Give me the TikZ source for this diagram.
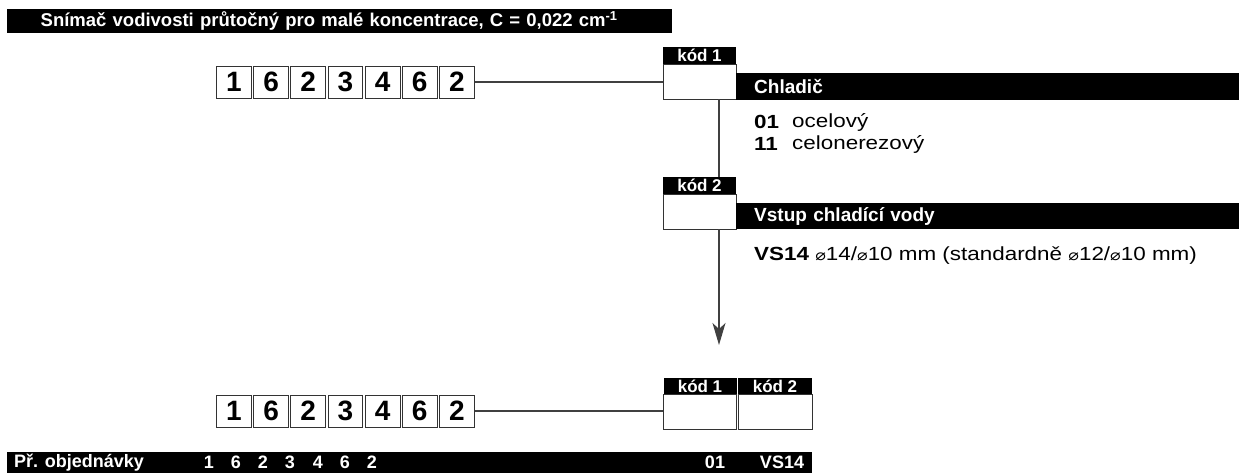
\documentclass[tikz,border=0pt]{standalone}
\usepackage{fontspec}
\setmainfont{Liberation Sans}
\newfontfamily\bodyfont[FakeStretch=1.18]{Liberation Sans}
\newfontfamily\symfont[FakeStretch=1.18]{DejaVu Sans}
\usetikzlibrary{arrows.meta}
\newcommand{\dia}{{\symfont\fontsize{15}{16}\selectfont ⌀}}
\begin{document}
\begin{tikzpicture}[x=1pt,y=-1pt,
  blackbar/.style={fill=black,text=white,font=\bfseries\fontsize{19}{20}\selectfont,inner sep=0pt,anchor=north west,align=left},
  digit/.style={draw=black!80,line width=0.9pt,fill=white,minimum width=34.8pt,minimum height=32pt,inner sep=0pt,font=\bfseries\fontsize{28}{30}\selectfont},
  kodlab/.style={fill=black,text=white,minimum width=73pt,minimum height=17pt,inner sep=0pt,font=\bfseries\fontsize{17}{17}\selectfont},
  kodbox/.style={draw=black!80,line width=0.9pt,fill=white,minimum width=73pt,minimum height=35pt,inner sep=0pt},
  conn/.style={draw=black!75,line width=1.3pt},
  body/.style={font=\bodyfont\fontsize{19}{20}\selectfont,anchor=west,inner sep=0pt},
  bodyb/.style={font=\bodyfont\bfseries\fontsize{19}{20}\selectfont,anchor=west,inner sep=0pt},
  bartext/.style={text=white,font=\bfseries\fontsize{18}{20}\selectfont,inner sep=0pt}
]
\useasboundingbox (0,0) rectangle (1239,473);

% title bar
\node[blackbar,font=\bfseries\fontsize{18.5}{20}\selectfont,minimum width=665pt,minimum height=24pt,text width=632pt,inner xsep=16.5pt] (title) at (7,9)
  {\hspace*{17pt}Snímač vodivosti průtočný pro malé koncentrace, C = 0,022 cm\textsuperscript{-1}};

% top digit row
\foreach \d [count=\i] in {1,6,2,3,4,6,2} {
  \node[digit] (t\i) at ({234+37.14*(\i-1)},82) {\d};
}

% kod 1 (top)
\node[kodlab] (k1lab) at (699.5,55.5) {kód 1};
\node[kodbox] (k1) at (699.5,81.5) {};
\node[blackbar,minimum width=503pt,minimum height=27pt,text width=484pt,inner xsep=18pt,anchor=north west] (chl) at (736,73) {Chladič};
\draw[conn] (t7.east) -- (k1.west |- t7.east);

\node[bodyb] (o1) at (754,122) {01};
\node[body] (o1t) at (792,122) {ocelový};
\node[bodyb] (o2) at (754,144) {11};
\node[body] (o2t) at (792,144) {celonerezový};

% kod 2 (top)
\node[kodlab] (k2lab) at (699.5,185.5) {kód 2};
\node[kodbox] (k2) at (699.5,211.5) {};
\node[blackbar,minimum width=503pt,minimum height=26pt,text width=484pt,inner xsep=18pt,anchor=north west] (vst) at (736,203) {Vstup chladící vody};

\node[body] (vs) at (754,256) {\textbf{VS14} \dia14/\dia10 mm (standardně \dia12/\dia10 mm)};

% vertical connector with arrow
\coordinate (tip) at (719,345);
\draw[conn] (k1.south -| tip) -- (k2lab.north -| tip);
\draw[conn,-{Stealth[length=22pt,width=13pt,inset=6pt]}] (k2.south -| tip) -- (tip);

% bottom digit row
\foreach \d [count=\i] in {1,6,2,3,4,6,2} {
  \node[digit] (b\i) at ({234+37.14*(\i-1)},411) {\d};
}
\node[kodlab] (bk1lab) at (700,386.5) {kód 1};
\node[kodbox] (bk1) at (700,412) {};
\node[kodlab,minimum width=74pt] (bk2lab) at (775,386.5) {kód 2};
\node[kodbox,minimum width=74pt] (bk2) at (775,412) {};
\draw[conn] (b7.east) -- (bk1.west |- b7.east);

% bottom bar
\node[blackbar,minimum width=805pt,minimum height=21pt,text width=798pt,inner xsep=0pt,anchor=north west] (ord) at (7,452) {};
\node[bartext,anchor=west] (ordt) at (14,462.5) {Př. objednávky};
\foreach \d/\x [count=\i] in {1/209,6/236,2/263,3/290,4/318,6/345,2/372} {
  \node[bartext] (o\i) at (\x,462.5) {\d};
}
\node[bartext] (oc1) at (715,462.5) {01};
\node[bartext] (oc2) at (782,462.5) {VS14};
\end{tikzpicture}
\end{document}
